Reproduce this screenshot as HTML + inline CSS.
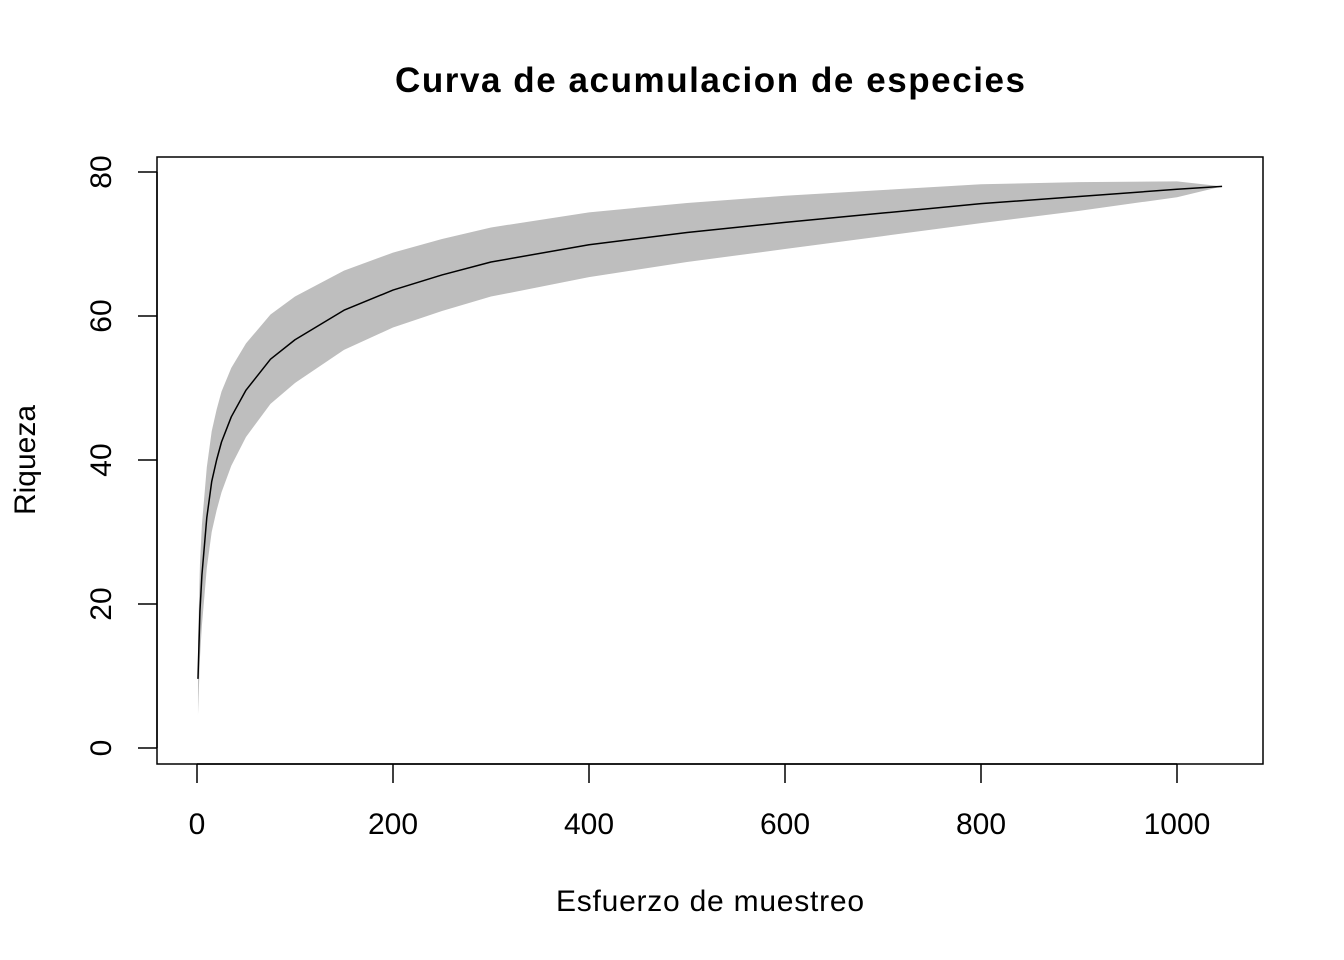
<!DOCTYPE html>
<html><head><meta charset="utf-8"><style>body{margin:0;background:#fff}svg{display:block}</style></head>
<body>
<svg id="chart" width="1344" height="960" viewBox="0 0 1344 960" font-family="Liberation Sans, Arial, sans-serif">
<rect width="1344" height="960" fill="#fff"/>
<text x="710" y="92" text-anchor="middle" font-size="35" font-weight="bold" textLength="630">Curva de acumulacion de especies</text>
<g id="band"></g>
<g id="line"></g>
<rect x="157" y="157" width="1106" height="607" fill="none" stroke="#000" stroke-width="1.5"/>
<g id="xaxis"></g>
<g id="yaxis"></g>
<text x="710" y="911" text-anchor="middle" font-size="30" textLength="308">Esfuerzo de muestreo</text>
<text transform="translate(35,460) rotate(-90)" text-anchor="middle" font-size="30">Riqueza</text>
</svg>
<script>
const effort = [1, 3, 5, 10, 15, 20, 25, 35, 50, 75, 100, 150, 200, 250, 300, 400, 500, 600, 700, 800, 900, 1000, 1046];
const richness = [9.6, 19, 24, 32, 37, 40, 42.5, 46, 49.7, 54, 56.7, 60.8, 63.6, 65.7, 67.5, 69.9, 71.6, 73, 74.3, 75.6, 76.6, 77.6, 78];
const halfWidth = [5, 6.5, 7, 7, 7, 7, 7, 6.8, 6.5, 6.2, 6, 5.5, 5.2, 5, 4.8, 4.5, 4.1, 3.7, 3.2, 2.7, 2, 1.1, 0];
const xTicks = [0, 200, 400, 600, 800, 1000];
const yTicks = [0, 20, 40, 60, 80];
const NS = 'http://www.w3.org/2000/svg';
const sx = v => 197 + v * 0.98;
const sy = v => 748 - v * 7.2;
function mk(tag, attrs, parent) { const e = document.createElementNS(NS, tag); for (const k in attrs) e.setAttribute(k, attrs[k]); parent.appendChild(e); return e; }
let up = effort.map((x, i) => sx(x) + ',' + sy(richness[i] + halfWidth[i]));
let lo = effort.map((x, i) => sx(x) + ',' + sy(richness[i] - halfWidth[i])).reverse();
const band = mk('polygon', { points: up.concat(lo).join(' '), fill: '#bebebe', 'stroke-linejoin': 'round' }, document.getElementById('band'));


const line = mk('polyline', { points: effort.map((x, i) => sx(x) + ',' + sy(richness[i])).join(' '), fill: 'none', stroke: '#000', 'stroke-width': 1.5, 'stroke-linejoin': 'round' }, document.getElementById('line'));


const xa = document.getElementById('xaxis');
mk('line', { x1: sx(xTicks[0]), x2: sx(xTicks[xTicks.length - 1]), y1: 764, y2: 764, stroke: '#000', 'stroke-width': 1.5 }, xa);
xTicks.forEach(t => {
  mk('line', { x1: sx(t), x2: sx(t), y1: 764, y2: 783, stroke: '#000', 'stroke-width': 1.5 }, xa);
  const tx = mk('text', { x: sx(t), y: 834, 'text-anchor': 'middle', 'font-size': 30 }, xa);
  tx.textContent = t;
  
  
});
const ya = document.getElementById('yaxis');
mk('line', { x1: 157, x2: 157, y1: sy(yTicks[0]), y2: sy(yTicks[yTicks.length - 1]), stroke: '#000', 'stroke-width': 1.5 }, ya);
yTicks.forEach(t => {
  mk('line', { x1: 138, x2: 157, y1: sy(t), y2: sy(t), stroke: '#000', 'stroke-width': 1.5 }, ya);
  const tx = mk('text', { transform: 'translate(111,' + sy(t) + ') rotate(-90)', 'text-anchor': 'middle', 'font-size': 30 }, ya);
  tx.textContent = t;
  
  
});
</script>
</body></html>
